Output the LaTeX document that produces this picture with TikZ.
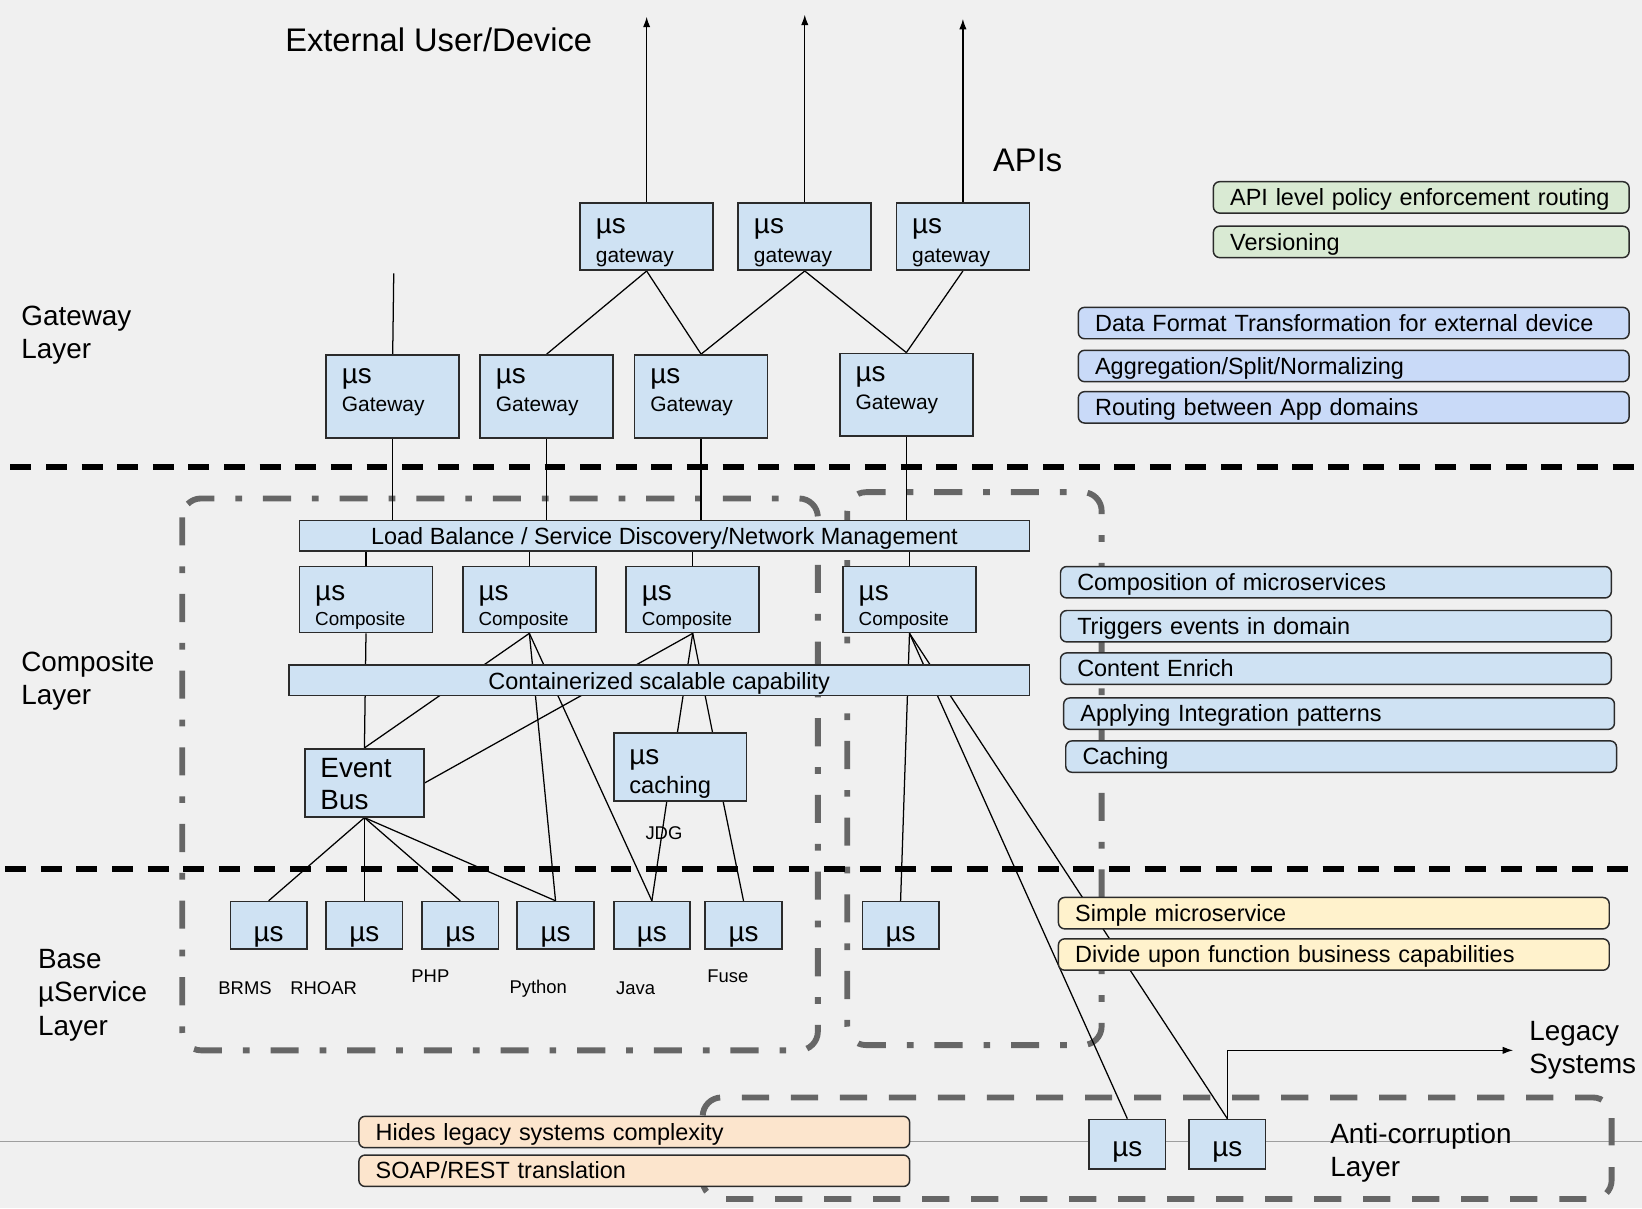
\documentclass[tikz,border=0pt]{standalone}
\usepackage{fontspec}
\setmainfont{Liberation Sans}
\usetikzlibrary{arrows.meta,calc}

\definecolor{bgcol}{HTML}{F0F0F0}
\definecolor{boxfill}{HTML}{CFE2F3}
\definecolor{boxline}{HTML}{2B2B2B}
\definecolor{greenfill}{HTML}{D9EAD3}
\definecolor{lavfill}{HTML}{C9DAF8}
\definecolor{yellowfill}{HTML}{FFF2CC}
\definecolor{orangefill}{HTML}{FCE5CD}
\definecolor{zonegray}{HTML}{666666}

\pgfdeclarelayer{back}
\pgfdeclarelayer{wires}
\pgfsetlayers{back,wires,main}

\newcommand{\musvc}[1]{{\fontsize{13.3}{14}\selectfont µs}\\#1}

\begin{document}
\begin{tikzpicture}[x=0.5pt,y=-0.5pt]

    \tikzset{
      usbox/.style n args={2}{draw=boxline,fill=boxfill,line width=0.8pt,inner xsep=7.5pt,inner ysep=0pt,
                    text width=48.5pt,align=left,text height=#1,text depth=#2},
      basebox/.style n args={2}{draw=boxline,fill=boxfill,line width=0.8pt,inner sep=0pt,
                      minimum width=36.5pt,text height=#1,text depth=#2,font=\fontsize{13.3}{14}\selectfont},
      strip/.style={draw=boxline,fill=boxfill,line width=0.8pt,inner sep=0pt,
                    text height=11.5pt,text depth=3pt,font=\fontsize{11.2}{13}\selectfont},
      info/.style={draw=boxline,rounded corners=3pt,line width=0.7pt,inner xsep=8pt,inner ysep=0pt,
                   text width=247pt,align=left,text height=11.4pt,text depth=3.6pt,anchor=west,font=\fontsize{11.2}{13}\selectfont},
      layerlbl/.style={anchor=west,inner sep=0pt,align=left,font=\fontsize{13.3}{16}\selectfont},
      tech/.style={inner sep=0pt,font=\fontsize{8.8}{10}\selectfont},
      wire/.style={line width=0.6pt},
      split/.style={line width=2.6pt,dash pattern=on 10pt off 7pt},
      zone/.style={draw=zonegray,line width=2.8pt,rounded corners=9pt,dash pattern=on 13.4pt off 10pt on 3.2pt off 10pt},
      acl/.style={draw=zonegray,line width=2.8pt,rounded corners=9pt,dash pattern=on 13pt off 10.4pt},
    }
    \useasboundingbox (0,0) rectangle (1568,1154);

    % outer gateways
    \node[usbox={14.5pt}{17.5pt},font=\fontsize{10}{14}\selectfont] (t1) at (617.5,226) {\musvc{gateway}};
    \node[usbox={14.5pt}{17.5pt},font=\fontsize{10}{14}\selectfont] (t2) at (768.5,226) {\musvc{gateway}};
    \node[usbox={14.5pt}{17.5pt},font=\fontsize{10}{14}\selectfont] (t3) at (919.5,226) {\musvc{gateway}};

    \node[usbox={13.5pt}{26pt},font=\fontsize{10}{13.5}\selectfont] (g1) at (375,378.5) {\musvc{Gateway}};
    \node[usbox={13.5pt}{26pt},font=\fontsize{10}{13.5}\selectfont] (g2) at (522,378.5) {\musvc{Gateway}};
    \node[usbox={13.5pt}{26pt},font=\fontsize{10}{13.5}\selectfont] (g3) at (669.5,378.5) {\musvc{Gateway}};
    \node[usbox={13.5pt}{26pt},font=\fontsize{10}{13.5}\selectfont] (g4) at (865.5,377) {\musvc{Gateway}};

    % composite layer
    \node[strip,minimum width=348.5pt] (lb) at (634.5,511.5) {Load Balance / Service Discovery/Network Management};
    \node[usbox={16pt}{15.5pt},font=\fontsize{9}{12.2}\selectfont] (c1) at (349.5,572.5) {\musvc{Composite}};
    \node[usbox={16pt}{15.5pt},font=\fontsize{9}{12.2}\selectfont] (c2) at (505.5,572.5) {\musvc{Composite}};
    \node[usbox={16pt}{15.5pt},font=\fontsize{9}{12.2}\selectfont] (c3) at (661.5,572.5) {\musvc{Composite}};
    \node[usbox={16pt}{15.5pt},font=\fontsize{9}{12.2}\selectfont] (c4) at (868.5,572.5) {\musvc{Composite}};
    \node[strip,minimum width=353.5pt] (cs) at (629.5,649.5) {Containerized scalable capability};
    \node[usbox={13.8pt}{18.7pt},text width=42pt,font=\fontsize{13.3}{15.2}\selectfont] (eb) at (348,747.5) {Event\\Bus};
    \node[usbox={15.2pt}{17.3pt},font=\fontsize{11.3}{13.8}\selectfont] (cache) at (649.5,732.5) {\musvc{caching}};
    \node[tech] (jdg) at (634,796) {JDG};

    % base layer
    \node[basebox={19pt}{3.5pt}] (b1) at (256.5,883.5) {µs};
    \node[basebox={19pt}{3.5pt}] (b2) at (348,883.5) {µs};
    \node[basebox={19pt}{3.5pt}] (b3) at (439.5,883.5) {µs};
    \node[basebox={19pt}{3.5pt}] (b4) at (530.5,883.5) {µs};
    \node[basebox={19pt}{3.5pt}] (b5) at (622.5,883.5) {µs};
    \node[basebox={19pt}{3.5pt}] (b6) at (710,883.5) {µs};
    \node[basebox={19pt}{3.5pt}] (b7) at (860,883.5) {µs};
    \node[tech] (brms) at (234,944) {BRMS};
    \node[tech] (rhoar) at (309,944) {RHOAR};
    \node[tech] (php) at (411,932) {PHP};
    \node[tech] (python) at (514,944) {Python};
    \node[tech] (java) at (607,944) {Java};
    \node[tech] (fuse) at (695,932) {Fuse};

    \node[basebox={17.7pt}{5.8pt}] (a1) at (1076.5,1092.5) {µs};
    \node[basebox={17.7pt}{5.8pt}] (a2) at (1172,1092.5) {µs};

    % texts
    \node[anchor=west,inner sep=0pt,font=\fontsize{15.6}{18}\selectfont] (ext) at (272,38) {External User/Device};
    \node[anchor=west,inner sep=0pt,font=\fontsize{15.6}{18}\selectfont] (apis) at (948,153) {APIs};
    \node[layerlbl] (gwl) at (20,320) {Gateway\\Layer};
    \node[layerlbl] (cpl) at (20,650) {Composite\\Layer};
    \node[layerlbl] (bsl) at (36,950) {Base\\µService\\Layer};
    \node[layerlbl] (lgs) at (1460,1003) {Legacy\\Systems};
    \node[layerlbl] (acll) at (1270,1101) {Anti-corruption\\Layer};

    \node[info,fill=greenfill,text width=182.5pt] (i1) at (1158,188.5) {API level policy enforcement routing};
    \node[info,fill=greenfill,text width=182.5pt] (i2) at (1158,231) {Versioning};
    \node[info,fill=lavfill] (i3) at (1029,308.5) {Data Format Transformation for external device};
    \node[info,fill=lavfill] (i4) at (1029,349.5) {Aggregation/Split/Normalizing};
    \node[info,fill=lavfill] (i5) at (1029,389) {Routing between App domains};
    \node[info,fill=boxfill] (i6) at (1012,556) {Composition of microservices};
    \node[info,fill=boxfill] (i7) at (1012,598) {Triggers events in domain};
    \node[info,fill=boxfill] (i8) at (1012,638.5) {Content Enrich};
    \node[info,fill=boxfill] (i9) at (1015,681.5) {Applying Integration patterns};
    \node[info,fill=boxfill] (i10) at (1017,722.5) {Caching};
    \node[info,fill=yellowfill] (i11) at (1010,872) {Simple microservice};
    \node[info,fill=yellowfill] (i12) at (1010,911.5) {Divide upon function business capabilities};
    \node[info,fill=orangefill] (i13) at (342,1081) {Hides legacy systems complexity};
    \node[info,fill=orangefill] (i14) at (342,1118) {SOAP/REST translation};

    \coordinate (out1) at (617.5,16);
    \coordinate (out2) at (768.5,14);
    \coordinate (out3) at (919.5,18);
    \coordinate (g1up) at (376,261);
    \coordinate (legacy) at (1445,1003);

    \begin{pgfonlayer}{back}
        \fill[bgcol] (0,0) rectangle (1568,1154);
        \draw[black!38,line width=0.4pt] (0,1089.5) -- (1568,1089.5);
        \draw[zone] (174,476) rectangle (781,1003);
        \draw[zone] (809,470) rectangle (1052,998);
        \draw[acl] (671,1048) rectangle (1539,1145);
    \end{pgfonlayer}

    \begin{pgfonlayer}{wires}
        \draw[split] (10,446) -- (1560,446);
        \draw[split] (5,830) -- (1560,830);

        \begin{scope}[every path/.style={wire}]
            \draw (g1.north) -- (g1up);
            \draw (g2.north) -- (t1.south);
            \draw (t1.south) -- (g3.north);
            \draw (t2.south) -- (g3.north);
            \draw (t2.south) -- (g4.north);
            \draw (t3.south) -- (g4.north);

            \draw (g1.south) -- (g1.south |- lb.north);
            \draw (g2.south) -- (g2.south |- lb.north);
            \draw (g3.south) -- (g3.south |- lb.north);
            \draw (g4.south) -- (g4.south |- lb.north);

            \draw (lb.south -| c1.north) -- (c1.north);
            \draw (lb.south -| c2.north) -- (c2.north);
            \draw (lb.south -| c3.north) -- (c3.north);
            \draw (lb.south -| c4.north) -- (c4.north);

            \draw (c1.south) -- (eb.north);
            \draw (c2.south) -- (eb.north);
            \draw (c2.south) -- (b4.north);
            \draw (c2.south) -- (b5.north);
            \draw (c3.south) -- (eb.east);
            \draw (c3.south) -- ($(cache.north west)!0.48!(cache.north east)$);
            \draw (c3.south) -- ($(cache.north west)!0.74!(cache.north east)$);
            \draw (c4.south) -- (b7.north);
            \draw (c4.south) -- (a1.north);
            \draw (c4.south) -- (a2.north);

            \draw (eb.south) -- (b1.north);
            \draw (eb.south) -- (b2.north);
            \draw (eb.south) -- (b3.north);
            \draw (eb.south) -- (b4.north);
            \draw ($(cache.south west)!0.4!(cache.south east)$) -- (b5.north);
            \draw ($(cache.south west)!0.82!(cache.south east)$) -- (b6.north);
        \end{scope}

        \draw[wire,-{Latex[length=5pt,width=3.5pt]}] (t1.north) -- (out1);
        \draw[wire,-{Latex[length=5pt,width=3.5pt]}] (t2.north) -- (out2);
        \draw[wire,-{Latex[length=5pt,width=3.5pt]}] (t3.north) -- (out3);
        \draw[wire,-{Latex[length=5pt,width=3.5pt]}] (a2.north) |- (legacy);
    \end{pgfonlayer}

\end{tikzpicture}
\end{document}
